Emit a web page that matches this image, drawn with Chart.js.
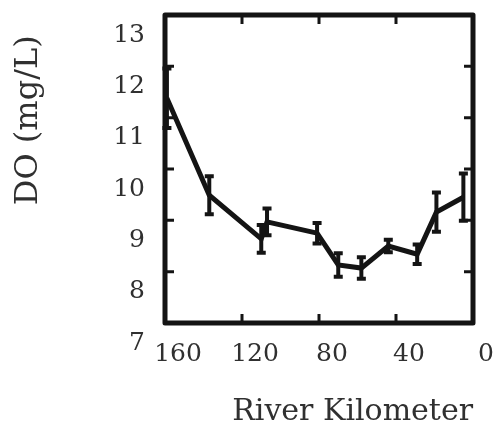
<!DOCTYPE html>
<html>
<head>
<meta charset="utf-8">
<script src="https://cdn.jsdelivr.net/npm/chart.js@4.4.1/dist/chart.umd.min.js"></script>
<style>
  html, body { margin: 0; padding: 0; background: #fff; }
  #wrap { width: 495px; height: 425px; }
</style>
</head>
<body>
<div id="wrap"><canvas id="mycanvas" width="495" height="425"></canvas></div>
<script>
// river km of each station, mean DO and error (mg/L)
var riverKm = [159, 137, 110, 107, 81, 70, 58, 44, 29, 19, 5];
var doMean  = [11.38, 9.49, 8.64, 8.97, 8.75, 8.13, 8.07, 8.5, 8.34, 9.16, 9.45];
var doErr   = [0.58, 0.37, 0.27, 0.26, 0.2, 0.23, 0.21, 0.12, 0.19, 0.38, 0.46];
var xTickVals = [160, 120, 80, 40, 0];
var yTickVals = [7, 8, 9, 10, 11, 12, 13];

var ink = '#141414';
var txt = '#303030';
var fontFam = '"DejaVu Serif", serif';

var points = [];
for (var i in riverKm) {
	points.push({x: riverKm[i], y: doMean[i]});
}

// error bars, frame and inward tick marks
var errorBars = {
	id: 'errorBars',
	afterDatasetsDraw: function(chart) {
		var ctx = chart.ctx;
		var xs = chart.scales.x, ys = chart.scales.y;
		ctx.save();
		ctx.strokeStyle = ink;
		ctx.lineWidth = 4;
		for (var i = 0; i < riverKm.length; i++) {
			var px = xs.getPixelForValue(riverKm[i]);
			var lo = ys.getPixelForValue(doMean[i] - doErr[i]);
			var hi = ys.getPixelForValue(doMean[i] + doErr[i]);
			ctx.beginPath();
			ctx.moveTo(px, lo); ctx.lineTo(px, hi);
			ctx.moveTo(px - 4.5, lo); ctx.lineTo(px + 4.5, lo);
			ctx.moveTo(px - 4.5, hi); ctx.lineTo(px + 4.5, hi);
			ctx.stroke();
		}
		ctx.restore();
	},
	afterDraw: function(chart) {
		var ctx = chart.ctx;
		var a = chart.chartArea;
		var xs = chart.scales.x, ys = chart.scales.y;
		ctx.save();
		ctx.strokeStyle = ink;
		ctx.lineWidth = 5;
		ctx.lineJoin = 'round';
		ctx.strokeRect(a.left, a.top, a.right - a.left, a.bottom - a.top);
		ctx.lineWidth = 3;
		ctx.beginPath();
		xTickVals.forEach(function(v) {
			var px = xs.getPixelForValue(v);
			ctx.moveTo(px, a.bottom); ctx.lineTo(px, a.bottom - 9);
			ctx.moveTo(px, a.top); ctx.lineTo(px, a.top + 9);
		});
		yTickVals.forEach(function(v) {
			var py = ys.getPixelForValue(v);
			ctx.moveTo(a.left, py); ctx.lineTo(a.left + 9, py);
			ctx.moveTo(a.right, py); ctx.lineTo(a.right - 9, py);
		});
		ctx.stroke();
		ctx.restore();
	}
};

var ctx = document.getElementById('mycanvas');
var chart = new Chart(ctx, {
	type: 'line',
	data: {
		datasets: [{
			data: points,
			borderColor: ink,
			borderWidth: 5,
			pointRadius: 0,
			tension: 0,
			fill: false
		}]
	},
	options: {
		responsive: false,
		animation: false,
		layout: {padding: {top: 15, right: 22, left: 0, bottom: 0}},
		plugins: {
			legend: {display: false},
			tooltip: {enabled: false},
			title: {
				display: true,
				position: 'bottom',
				align: 'end',
				text: 'River Kilometer',
				color: txt,
				font: {family: fontFam, size: 30, weight: 'normal', lineHeight: 0.85},
				padding: {top: 0, bottom: 0}
			}
		},
		scales: {
			x: {
				type: 'linear',
				reverse: true,
				min: 0,
				max: 160,
				afterBuildTicks: function(scale) {
					scale.ticks = xTickVals.map(function(v) { return {value: v}; });
				},
				afterFit: function(scale) {
					scale.height = 102 - 25.5;
					scale.paddingLeft = 0;
					scale.paddingRight = 0;
				},
				grid: {display: false, drawTicks: false},
				border: {display: false},
				ticks: {
					color: txt,
					font: {family: fontFam, size: 25},
					padding: 16,
					labelOffset: 13,
					maxRotation: 0
				}
			},
			y: {
				min: 7,
				max: 13,
				afterBuildTicks: function(scale) {
					scale.ticks = yTickVals.map(function(v) { return {value: v}; });
				},
				afterFit: function(scale) {
					scale.width = 165;
					scale.paddingTop = 0;
					scale.paddingBottom = 0;
				},
				grid: {display: false, drawTicks: false},
				border: {display: false},
				ticks: {
					color: txt,
					font: {family: fontFam, size: 25},
					padding: 20,
					labelOffset: 20
				},
				title: {
					display: true,
					text: 'DO (mg/L)  ',
					align: 'end',
					color: txt,
					font: {family: fontFam, size: 32, lineHeight: 1.1},
					padding: {top: 11, bottom: 0}
				}
			}
		}
	},
	plugins: [errorBars]
});
</script>
</body>
</html>
